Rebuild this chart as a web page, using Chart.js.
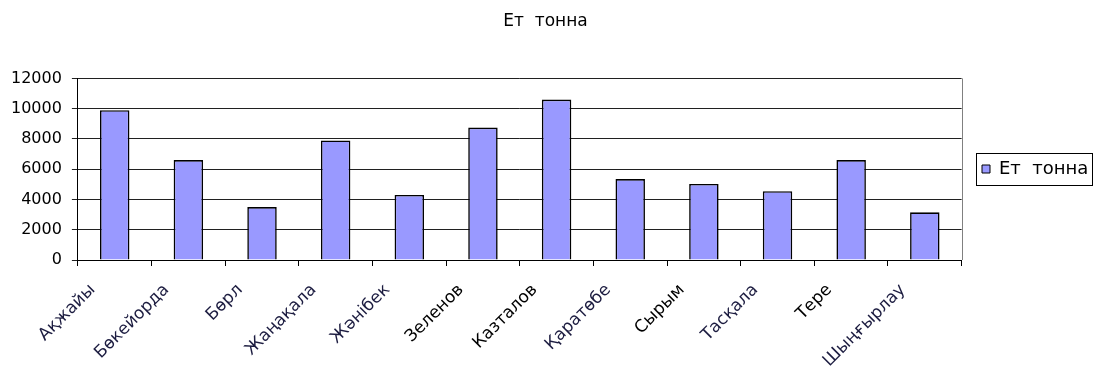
<!DOCTYPE html>
<html>
<head>
<meta charset="utf-8">
<script src="https://cdn.jsdelivr.net/npm/chart.js@4/dist/chart.umd.min.js"></script>
<style>
  html, body { margin: 0; padding: 0; background: #fff; }
  #wrap { width: 1096px; height: 369px; }
</style>
</head>
<body>
<div id="wrap"><canvas id="c" width="1096" height="369"></canvas></div>
<script>
// Districts (labels as printed on the axis)
const districts = ['Ақжайы', 'Бөкейорда', 'Бөрл', 'Жаңақала', 'Жәнібек', 'Зеленов',
                   'Казталов', 'Қаратөбе', 'Сырым', 'Тасқала', 'Тере', 'Шыңғырлау'];
// Meat output, tonnes
const meatTonnes = [9900, 6600, 3500, 7900, 4300, 8750, 10600, 5350, 5030, 4550, 6600, 3150];
const seriesName = 'Ет  тонна';
const yTicks = [0, 2000, 4000, 6000, 8000, 10000, 12000];

const FONT = 'DejaVu Sans, Liberation Sans, Arial, sans-serif';
const labelColors = ['#1c1c40', '#1c1c40', '#1c1c40', '#1c1c40', '#1c1c40', '#000',
                     '#000', '#1c1c40', '#000', '#1c1c40', '#000', '#1c1c40'];

// Where the legend marker sits, and the legend frame
const LEGEND_X = 982;
const LEGEND_CENTER_Y = 169;
const frames = {
  id: 'frames',
  beforeDraw(chart) {
    const lg = chart.legend;
    if (!lg || !lg.legendHitBoxes || !lg.legendHitBoxes.length) return;
    const hb = lg.legendHitBoxes[0];
    const dx = LEGEND_X - hb.left;
    const dy = (LEGEND_CENTER_Y - hb.height / 2) - hb.top;
    if (dx === 0 && dy === 0) return;
    lg.left += dx; lg.right += dx;
    lg.top += dy; lg.bottom += dy;
    for (const b of lg.legendHitBoxes) { b.left += dx; b.top += dy; }
  },
  afterDraw(chart) {
    const ctx = chart.ctx;
    const a = chart.chartArea;
    ctx.save();
    ctx.strokeStyle = '#808080';
    ctx.lineWidth = 1;
    ctx.beginPath();
    ctx.moveTo(Math.round(a.right) + 0.5, a.top);
    ctx.lineTo(Math.round(a.right) + 0.5, a.bottom);
    ctx.stroke();
    const lg = chart.legend;
    if (lg && lg.legendHitBoxes && lg.legendHitBoxes.length) {
      const hb = lg.legendHitBoxes[0];
      const cy = Math.round(hb.top + hb.height / 2);
      const x0 = Math.round(hb.left) - 5.5;
      const x1 = Math.round(hb.left + hb.width) + 4.5;
      ctx.strokeStyle = '#000';
      ctx.strokeRect(x0, cy - 15.5, x1 - x0, 32);
    }
    ctx.restore();
  }
};

new Chart(document.getElementById('c'), {
  type: 'bar',
  data: {
    labels: districts,
    datasets: [{
      label: seriesName,
      data: meatTonnes,
      backgroundColor: '#9999FF',
      borderColor: '#000000',
      borderWidth: 1.6,
      barPercentage: 0.4,
      categoryPercentage: 1.0
    }]
  },
  options: {
    responsive: false,
    animation: false,
    devicePixelRatio: 1,
    layout: { padding: { top: 0, right: 6, bottom: 0, left: 1 } },
    plugins: {
      title: {
        display: true,
        text: seriesName,
        color: '#000',
        font: { family: FONT, size: 17, weight: 'normal' },
        padding: { top: 11, bottom: 47 }
      },
      legend: {
        position: 'right',
        align: 'center',
        labels: {
          color: '#000',
          font: { family: FONT, size: 18 },
          boxWidth: 8,
          boxHeight: 8,
          padding: 12,
          generateLabels(chart) {
            const ds = chart.data.datasets[0];
            return [{
              text: ds.label,
              fillStyle: ds.backgroundColor,
              strokeStyle: '#000',
              lineWidth: 1,
              datasetIndex: 0
            }];
          }
        }
      },
      tooltip: { enabled: false }
    },
    scales: {
      x: {
        offset: true,
        afterFit(scale) { scale.height = 109; },
        grid: {
          display: true,
          offset: true,
          drawOnChartArea: false,
          drawTicks: true,
          tickLength: 6,
          color: '#000'
        },
        border: { display: true, color: '#000', width: 1 },
        ticks: {
          autoSkip: false,
          maxRotation: 45,
          minRotation: 45,
          padding: 14,
          labelOffset: -22,
          color: (ctx) => labelColors[ctx.index],
          font: { family: FONT, size: 17 }
        }
      },
      y: {
        min: 0,
        max: 12000,
        afterBuildTicks(scale) { scale.ticks = yTicks.map(v => ({ value: v })); },
        grid: {
          color: '#202020',
          lineWidth: 1,
          drawTicks: true,
          tickLength: 6
        },
        border: { display: true, color: '#000', width: 1 },
        ticks: {
          color: '#000',
          padding: 10,
          font: { family: FONT, size: 16 },
          callback: (v) => String(v)
        }
      }
    }
  },
  plugins: [frames]
});
</script>
</body>
</html>
